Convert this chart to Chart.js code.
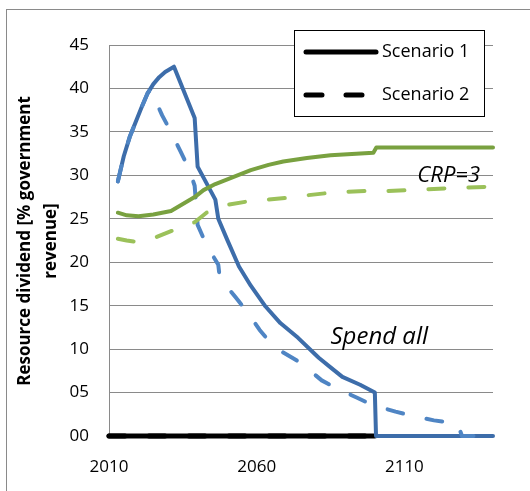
<!DOCTYPE html>
<html>
<head>
<meta charset="utf-8">
<script src="https://cdn.jsdelivr.net/npm/chart.js@4"></script>
<style>
  html, body { margin: 0; padding: 0; background: #fff; }
  #frame { position: absolute; left: 6px; top: 9px; width: 530px; height: 490px;
           border-left: 1px solid #8a8a8a; border-top: 1px solid #8a8a8a; }
  #wrap { position: absolute; left: 0; top: 0; width: 530px; height: 491px; }
</style>
</head>
<body>
<div id="frame"></div>
<div id="wrap"><canvas id="myChart"></canvas></div>
<script>
// x tick labels
var xTicks = [2010, 2060, 2110];

// Scenario 1, spend all (blue solid)
var s1SpendYears = [2013, 2015, 2017, 2019, 2021, 2023, 2025, 2027, 2029, 2032, 2039, 2040, 2046, 2047, 2050, 2054, 2058, 2063, 2068, 2074, 2081, 2085, 2089, 2095, 2100, 2100.4, 2140];
var s1SpendVals  = [29.3, 32.2, 34.4, 36.1, 37.8, 39.4, 40.5, 41.3, 41.9, 42.5, 36.6, 31.0, 27.2, 25.0, 22.6, 19.5, 17.3, 14.9, 13.0, 11.3, 9.0, 7.9, 6.8, 5.9, 5.0, 0, 0];

// Scenario 2, spend all (blue dashed)
var s2SpendYears = [2013, 2015, 2017, 2019, 2021, 2023, 2024, 2028, 2031, 2034, 2037, 2039, 2040, 2043, 2047, 2047.5, 2053, 2057, 2061, 2064, 2069, 2075, 2082, 2087, 2094, 2099, 2107, 2113, 2120, 2128, 2129.5, 2140];
var s2SpendVals  = [29.3, 32.2, 34.4, 36.1, 37.8, 39.4, 39.9, 36.9, 35.0, 32.9, 30.8, 28.8, 24.3, 22.0, 19.7, 18.2, 15.9, 14.2, 12.2, 11.0, 9.6, 8.4, 6.4, 5.5, 4.4, 3.6, 2.8, 2.3, 1.8, 1.4, 0, 0];

// Scenario 1, CRP=3 (green solid)
var s1CrpYears = [2013, 2016, 2020, 2025, 2031, 2035, 2039, 2042, 2046, 2052, 2058, 2064, 2069, 2077, 2085, 2099.5, 2100.5, 2140];
var s1CrpVals  = [25.7, 25.4, 25.3, 25.5, 25.9, 26.7, 27.5, 28.3, 29.0, 29.8, 30.6, 31.2, 31.6, 32.0, 32.3, 32.6, 33.2, 33.2];

// Scenario 2, CRP=3 (green dashed)
var s2CrpYears = [2013, 2016, 2020, 2026, 2032, 2036, 2039, 2043, 2050, 2057, 2063, 2070, 2077, 2085, 2090, 2097, 2104, 2111, 2118, 2124, 2131, 2140];
var s2CrpVals  = [22.7, 22.5, 22.3, 22.9, 23.7, 24.2, 24.6, 25.7, 26.6, 27.0, 27.2, 27.4, 27.7, 28.0, 28.1, 28.2, 28.2, 28.3, 28.4, 28.5, 28.6, 28.7];

// legend series (black, along zero)
var legendYears = [2010, 2100];
var legendVals  = [0, 0];

function pts(xs, ys) {
    return xs.map(function (x, i) { return { x: x, y: ys[i] }; });
}

var blueDark = '#3d6daa';
var blueLight = '#4f85c4';
var greenDark = '#79a140';
var greenLight = '#9bc15a';
var dash = [16, 24];

var overlay = {
    id: 'overlay',
    afterDraw: function (chart) {
        var ctx = chart.ctx;
        var xs = chart.scales.x, ys = chart.scales.y;
        ctx.save();
        // annotations
        ctx.fillStyle = '#000';
        ctx.textAlign = 'center';
        ctx.textBaseline = 'middle';
        ctx.font = 'italic 24px "Open Sans"';
        ctx.fillText('Spend all', xs.getPixelForValue(2101.5), ys.getPixelForValue(11.4));
        ctx.font = 'italic 22px "Open Sans"';
        ctx.fillText('CRP=3', xs.getPixelForValue(2125), ys.getPixelForValue(30.0));

        // legend box
        var bx = 294, by = 30, bw = 190, bh = 86;
        ctx.fillStyle = '#fff';
        ctx.fillRect(bx, by, bw, bh);
        ctx.strokeStyle = '#000';
        ctx.lineWidth = 1;
        ctx.strokeRect(bx + 0.5, by + 0.5, bw, bh);
        ctx.lineWidth = 5;
        ctx.lineCap = 'round';
        ctx.beginPath();
        ctx.moveTo(306, 52); ctx.lineTo(376, 52);
        ctx.stroke();
        ctx.setLineDash(dash);
        ctx.beginPath();
        ctx.moveTo(306, 95); ctx.lineTo(378, 95);
        ctx.stroke();
        ctx.setLineDash([]);
        ctx.fillStyle = '#000';
        ctx.font = '18px "Open Sans"';
        ctx.textAlign = 'left';
        ctx.fillText('Scenario 1', 382, 52);
        ctx.fillText('Scenario 2', 382, 95);

        // y axis title
        ctx.translate(38, 241);
        ctx.rotate(-Math.PI / 2);
        ctx.font = 'bold 17px "Open Sans"';
        ctx.textAlign = 'center';
        ctx.fillText('Resource dividend [% government', 0, -13);
        ctx.fillText('revenue]', 0, 13);
        ctx.restore();
    }
};

function lineSet(label, xs, ys, color, dashed, width) {
    return {
        label: label,
        data: pts(xs, ys),
        borderColor: color,
        borderWidth: width || 4,
        borderDash: dashed ? dash : [],
        borderCapStyle: 'round',
        borderJoinStyle: 'round',
        pointRadius: 0,
        tension: 0,
        fill: false,
        clip: false
    };
}

new Chart("myChart", {
    type: 'line',
    data: {
        datasets: [
            lineSet('Scenario 1 CRP=3', s1CrpYears, s1CrpVals, greenDark, false),
            lineSet('Scenario 2 CRP=3', s2CrpYears, s2CrpVals, greenLight, true),
            lineSet('Scenario 2 spend all', s2SpendYears, s2SpendVals, blueLight, true),
            lineSet('Scenario 1 spend all', s1SpendYears, s1SpendVals, blueDark, false),
            lineSet('Scenario 1', legendYears, legendVals, '#000', false, 5),
            lineSet('Scenario 2', legendYears, legendVals, '#000', true, 5)
        ]
    },
    options: {
        responsive: true,
        maintainAspectRatio: false,
        animation: false,
        layout: { padding: { top: 45, right: 37, left: 0, bottom: 0 } },
        plugins: { legend: { display: false }, tooltip: { enabled: false } },
        scales: {
            x: {
                type: 'linear',
                min: 2010,
                max: 2140,
                afterBuildTicks: function (scale) {
                    scale.ticks = xTicks.map(function (v) { return { value: v }; });
                },
                afterFit: function (scale) { scale.height = 55; },
                grid: { display: false },
                border: { color: '#8a8a8a' },
                ticks: {
                    padding: 13,
                    color: '#000',
                    font: { family: 'Open Sans', size: 17 },
                    callback: function (v) { return String(v); }
                }
            },
            y: {
                min: 0,
                max: 45,
                afterFit: function (scale) { scale.width = 109; },
                grid: { color: '#8a8a8a', lineWidth: 1, drawTicks: false },
                border: { color: '#8a8a8a' },
                ticks: {
                    stepSize: 5,
                    padding: 20,
                    color: '#000',
                    font: { family: 'Open Sans', size: 17 },
                    callback: function (v) { return String(v).padStart(2, '0'); }
                }
            }
        }
    },
    plugins: [overlay]
});
</script>
</body>
</html>
